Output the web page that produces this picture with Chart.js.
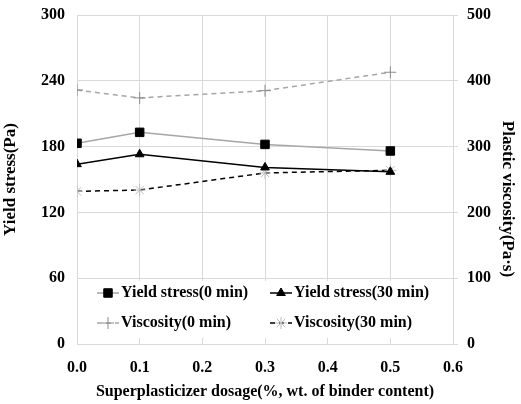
<!DOCTYPE html>
<html lang="en">
<head>
  <meta charset="UTF-8">
  <title>Yield stress and plastic viscosity</title>
  <script src="https://cdn.jsdelivr.net/npm/chart.js"></script>
  <style>
    html, body { margin: 0; padding: 0; background: #fff; }
    #wrap { width: 521px; height: 404px; }
  </style>
</head>
<body>
  <div id="wrap"><canvas id="myChart" width="521" height="404"></canvas></div>

  <script>
    // superplasticizer dosage (% wt. of binder)
    const dosage = [0.0, 0.1, 0.3, 0.5];

    // yield stress, Pa (left axis)
    const yield0 = [183, 193, 182, 176];
    const yield30 = [164, 173, 161, 157];

    // plastic viscosity, Pa·s (right axis)
    const visc0 = [386, 374, 385, 413];
    const visc30 = [232, 234, 260, 264];

    const FONT = 'Liberation Serif';
    const GRID = '#d9d9d9';

    function pts(values) {
      return dosage.map((x, i) => ({ x: x, y: values[i] }));
    }

    // legend drawn inside the plot with a white box, line sample + marker;
    // also the right axis title, which sits a little below centre
    const boxLegend = {
      id: 'boxLegend',
      afterDraw(chart, args, opts) {
        const ctx = chart.ctx;
        const ds = chart.data.datasets;
        ctx.save();
        ctx.fillStyle = '#fff';
        ctx.fillRect(opts.box[0], opts.box[1], opts.box[2], opts.box[3]);
        ctx.font = 'bold 16px ' + FONT;
        ctx.textBaseline = 'middle';
        ds.forEach((d, i) => {
          const col = i % 2 === 0 ? 0 : 1;   // yield / viscosity alternate columns
          const row = i < 2 ? 0 : 1;
          const x = opts.cols[col];
          const y = opts.rows[row];
          // line sample
          ctx.strokeStyle = d.borderColor;
          ctx.lineWidth = d.borderWidth;
          ctx.setLineDash(d.borderDash || []);
          ctx.beginPath();
          ctx.moveTo(x, y);
          ctx.lineTo(x + 22, y);
          ctx.stroke();
          ctx.setLineDash([]);
          // marker
          ctx.fillStyle = d.pointBackgroundColor;
          ctx.strokeStyle = d.pointBorderColor;
          ctx.lineWidth = d.pointBorderWidth;
          Chart.helpers.drawPoint(ctx, {
            pointStyle: d.pointStyle,
            radius: d.pointRadius,
            rotation: 0,
            borderWidth: d.pointBorderWidth
          }, x + 11, y);
          // label
          ctx.fillStyle = '#000';
          ctx.fillText(d.label, x + 24, y);
        });

        // right axis title, reading top to bottom
        ctx.translate(opts.rightTitle[0], opts.rightTitle[1]);
        ctx.rotate(Math.PI / 2);
        ctx.font = 'bold 17px ' + FONT;
        ctx.textAlign = 'center';
        ctx.textBaseline = 'middle';
        ctx.fillStyle = '#000';
        ctx.fillText('Plastic viscosity(Pa·s)', 0, 0);
        ctx.restore();
      }
    };

    // fixed axis sizes so the plot area lands where wanted
    function fixY(width) {
      return scale => {
        scale.width = width;
        scale.paddingTop = 0;
        scale.paddingBottom = 0;
      };
    }

    const ctx = document.getElementById('myChart').getContext('2d');

    new Chart(ctx, {
      type: 'line',
      data: {
        datasets: [
          {
            label: 'Yield stress(0 min)',
            data: pts(yield0),
            yAxisID: 'y',
            borderColor: '#a6a6a6',
            borderWidth: 1.5,
            pointStyle: 'rect',
            pointRadius: 6,
            pointBackgroundColor: '#000',
            pointBorderColor: '#000',
            pointBorderWidth: 1
          },
          {
            label: 'Yield stress(30 min)',
            data: pts(yield30),
            yAxisID: 'y',
            borderColor: '#000',
            borderWidth: 1.5,
            pointStyle: 'triangle',
            pointRadius: 5,
            pointBackgroundColor: '#000',
            pointBorderColor: '#000',
            pointBorderWidth: 1
          },
          {
            label: 'Viscosity(0 min)',
            data: pts(visc0),
            yAxisID: 'y1',
            borderColor: '#a6a6a6',
            borderWidth: 1.5,
            borderDash: [5, 4],
            pointStyle: 'cross',
            pointRadius: 6,
            pointBackgroundColor: '#8c8c8c',
            pointBorderColor: '#8c8c8c',
            pointBorderWidth: 1
          },
          {
            label: 'Viscosity(30 min)',
            data: pts(visc30),
            yAxisID: 'y1',
            borderColor: '#000',
            borderWidth: 1.5,
            borderDash: [5, 4],
            pointStyle: 'star',
            pointRadius: 6,
            pointBackgroundColor: '#bdbdbd',
            pointBorderColor: '#bdbdbd',
            pointBorderWidth: 1
          }
        ]
      },
      options: {
        responsive: false,
        animation: false,
        layout: { padding: { top: 15, left: 0, right: 0, bottom: 3 } },
        plugins: {
          legend: { display: false },
          tooltip: { enabled: false },
          boxLegend: {
            box: [88, 281, 345, 57],
            cols: [97, 270],
            rows: [293, 323],
            rightTitle: [507, 199]
          }
        },
        scales: {
          x: {
            type: 'linear',
            min: 0,
            max: 0.6,
            ticks: {
              stepSize: 0.1,
              padding: 14,
              color: '#000',
              font: { family: FONT, size: 16, weight: 'bold' },
              callback: v => v.toFixed(1)
            },
            grid: { color: GRID, drawTicks: false },
            border: { color: GRID },
            title: {
              display: true,
              text: 'Superplasticizer dosage(%, wt. of binder content)',
              color: '#000',
              font: { family: FONT, size: 16, weight: 'bold' },
              padding: { top: 4, bottom: 0 }
            },
            afterFit(scale) {
              scale.height = 57;
              scale.paddingLeft = 0;
              scale.paddingRight = 0;
            }
          },
          y: {
            position: 'left',
            min: 0,
            max: 300,
            ticks: {
              stepSize: 60,
              padding: 12,
              color: '#000',
              font: { family: FONT, size: 16, weight: 'bold' }
            },
            grid: { color: GRID, drawTicks: false },
            border: { color: GRID },
            title: {
              display: true,
              text: 'Yield stress(Pa)',
              color: '#000',
              font: { family: FONT, size: 17, weight: 'bold' },
              padding: { top: 0, bottom: 0 }
            },
            afterFit: fixY(77)
          },
          y1: {
            position: 'right',
            min: 0,
            max: 500,
            ticks: {
              stepSize: 100,
              padding: 9,
              color: '#000',
              font: { family: FONT, size: 16, weight: 'bold' }
            },
            grid: { color: GRID, drawOnChartArea: false, drawTicks: true, tickLength: 5, tickColor: GRID },
            border: { color: GRID },
            afterFit: fixY(68)
          }
        }
      },
      plugins: [boxLegend]
    });
  </script>
</body>
</html>
